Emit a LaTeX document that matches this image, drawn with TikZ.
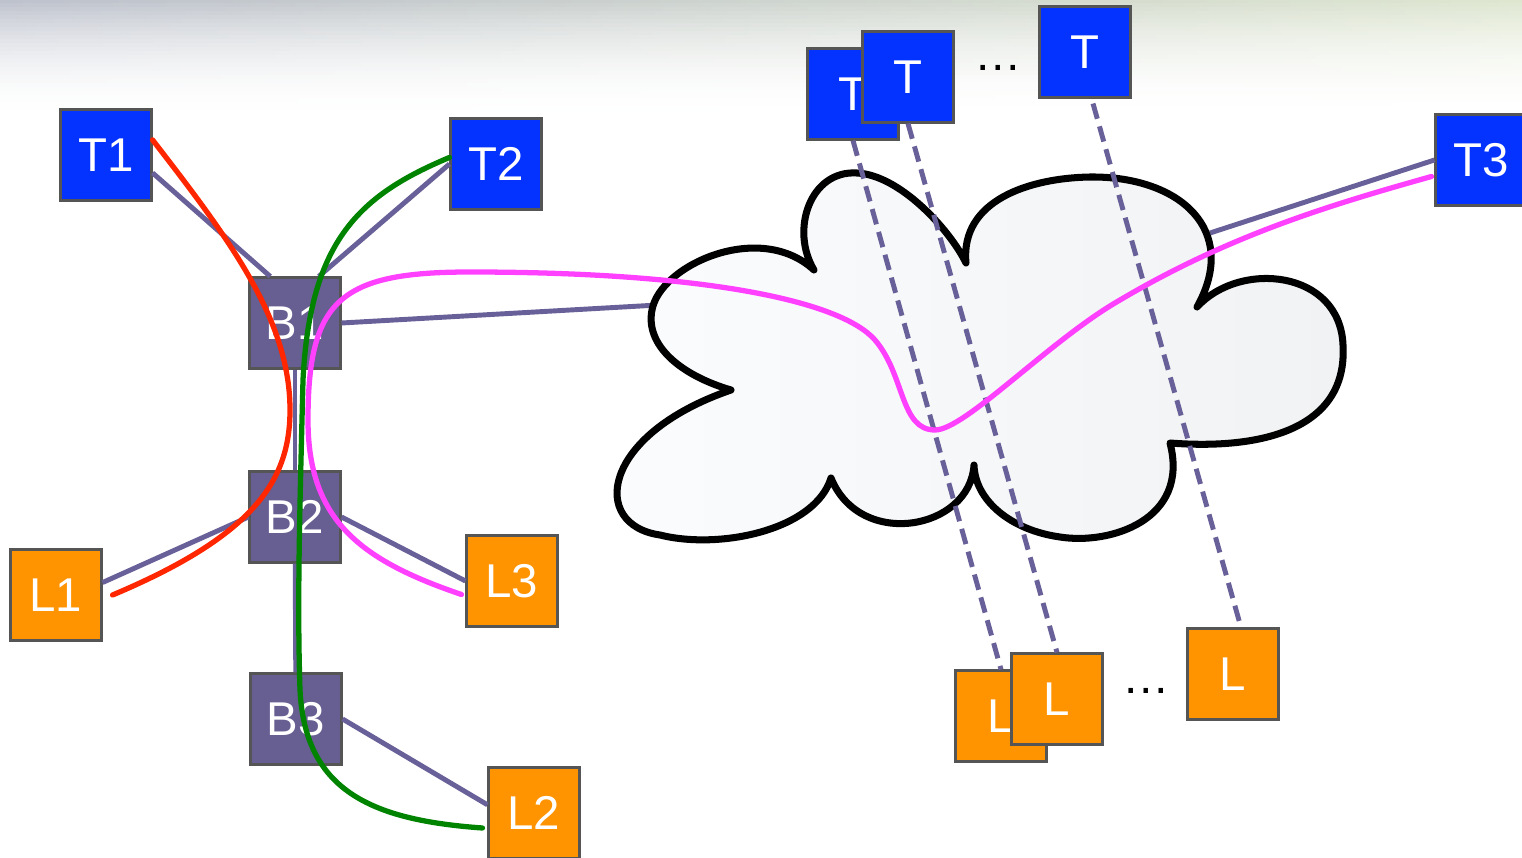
\documentclass[tikz,border=0pt]{standalone}
\usepackage{fontspec}
\setmainfont{Liberation Sans}

\definecolor{tblue}{RGB}{4,51,255}
\definecolor{lorange}{RGB}{255,147,0}
\definecolor{bpurple}{RGB}{103,94,145}
\definecolor{boxline}{RGB}{85,85,85}
\definecolor{wirepurple}{RGB}{104,96,152}
\definecolor{redroute}{RGB}{255,38,0}
\definecolor{greenroute}{RGB}{0,132,0}
\definecolor{pinkroute}{RGB}{255,64,255}
\definecolor{cloudl}{RGB}{251,252,253}
\definecolor{cloudr}{RGB}{241,242,243}
\definecolor{skyl}{RGB}{190,194,205}
\definecolor{skym}{RGB}{212,221,210}
\definecolor{skyr}{RGB}{222,230,208}

\begin{document}
\begin{tikzpicture}[x=0.02cm, y=-0.02cm]
		\tikzstyle{box}=[draw=boxline, line width=1.2pt, minimum size=1.82cm, inner sep=0pt, text=white, font=\fontsize{27}{30}\selectfont]
		\tikzstyle{tbox}=[box, fill=tblue]
		\tikzstyle{lbox}=[box, fill=lorange]
		\tikzstyle{bbox}=[box, fill=bpurple]
		\tikzstyle{wire}=[draw=wirepurple, line width=2.8pt]
		\tikzstyle{tunnel}=[wire, dash pattern=on 9pt off 4.5pt]
		\tikzstyle{route}=[line width=3pt, line cap=round]
		\tikzstyle{dots}=[inner sep=0pt, anchor=base, font=\fontsize{27}{30}\selectfont]
		
		\useasboundingbox (0,0) rectangle (1522,858);
		\fill[white] (0,0) rectangle (1522,858);
		\foreach \i in {0,...,29}{
			\pgfmathsetmacro{\p}{100*(1-\i/30)^2}
			\shade[left color=skyl!\p!white, middle color=skym!\p!white, right color=skyr!\p!white] (0,\i*4) rectangle (1522,\i*4+4.6);
		}
		
		\node[tbox](t1) at (106,155) {T1};
		\node[tbox](t2) at (496,164) {T2};
		\node[tbox](t3) at (1481,160) {T3};
		
		\node[bbox](b1) at (295,323) {B1};
		\node[bbox](b2) at (295,517) {B2};
		\node[bbox](b3) at (296,719) {B3};
		
		\node[lbox](l1) at (56,595) {L1};
		\node[lbox](l3) at (512,581) {L3};
		\node[lbox](l2) at (534,813) {L2};
		
		\foreach \n/\x/\y in {a/853/94, b/908/77, c/1085/52}
		\node[tbox](t\n) at (\x,\y) {T};
		
		\foreach \n/\x/\y in {a/1001/716, b/1057/699, c/1233/674}
		\node[lbox](l\n) at (\x,\y) {L};
		
		\node[dots](dots-t) at (998,71) {…};
		\node[dots](dots-l) at (1146,693) {…};
		
		\coordinate (cloud-w) at (658,305);
		\coordinate (cloud-e) at (1210,233);
		
		\foreach \a/\b in {t1.-21/b1.118, t2.west/b1.63, b1.east/cloud-w, b1/b2, b2/b3, b2.west/l1.15, b2.east/l3.west, b3.east/l2.170, t3.west/cloud-e}
		\draw[wire] (\a) -- (\b);
		
		\shadedraw[left color=cloudl, right color=cloudr, draw=black, line width=4pt, line join=round]
		(731,390) .. controls (680,375) and (645,345) .. (652,310)
		.. controls (660,265) and (760,220) .. (814,270)
		.. controls (790,230) and (810,170) .. (857,173)
		.. controls (900,175) and (950,230) .. (966,263)
		.. controls (960,200) and (1030,178) .. (1090,177)
		.. controls (1180,176) and (1240,230) .. (1197,307)
		.. controls (1240,260) and (1340,270) .. (1343,345)
		.. controls (1348,430) and (1260,450) .. (1170,443)
		.. controls (1190,520) and (1110,545) .. (1060,537)
		.. controls (1010,530) and (975,500) .. (974,465)
		.. controls (970,530) and (860,550) .. (831,478)
		.. controls (815,530) and (720,550) .. (660,535)
		.. controls (590,525) and (600,435) .. (731,390) -- cycle;
		
		\foreach \n in {a,b}
		\draw[tunnel] (t\n.south) -- (l\n.north);
		\draw[tunnel] ([xshift=0.16cm,yshift=-0.1cm]tc.south) -- ([xshift=0.16cm]lc.north);
		
		\draw[route, redroute] (t1.18) .. controls (230,240) and (290,320) .. (290,410)
		.. controls (290,480) and (255,535) .. ([xshift=0.2cm]l1.east);
		
		\draw[route, greenroute] (t2.172) .. controls (360,195) and (310,240) .. (303,380)
		.. controls (300,500) and (297,600) .. (300,690)
		.. controls (305,790) and (370,820) .. ([shift={(-0.1cm,-0.3cm)}]l2.west);
		
		\draw[route, pinkroute] ([shift={(-0.08cm,-0.27cm)}]l3.west) .. controls (360,560) and (308,520) .. (308,420)
		.. controls (308,300) and (340,272) .. (470,272)
		.. controls (700,272) and (840,300) .. (875,340)
		.. controls (905,375) and (900,430) .. (935,430)
		.. controls (965,430) and (1050,340) .. (1120,300)
		.. controls (1230,235) and (1330,205) .. ([shift={(-0.06cm,-0.33cm)}]t3.west);
\end{tikzpicture}
\end{document}
